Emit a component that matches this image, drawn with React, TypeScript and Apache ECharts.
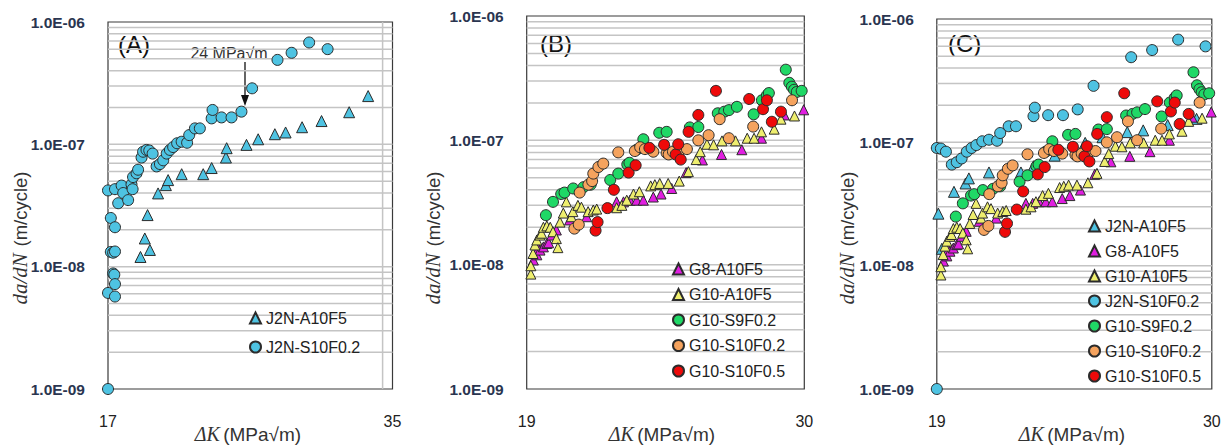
import React, { useEffect, useRef } from "react";
import * as echarts from "echarts";

// ---------- data (ΔK in MPa√m, da/dN in m/cycle) ----------
const j2nA10F5: number[][] = [
  [18.72, 1.2e-8], [18.92, 1.7e-8], [19.16, 1.37e-8], [19.05, 2.64e-8], [19.55, 3.97e-8],
  [19.93, 4.64e-8], [20.04, 5.1e-8], [20.72, 5.7e-8], [21.85, 5.7e-8], [22.31, 6.4e-8],
  [23.11, 7.8e-8], [23.15, 9.3e-8], [24.31, 9.9e-8], [25.02, 1.1e-7], [26.07, 1.21e-7],
  [26.77, 1.25e-7], [27.88, 1.38e-7], [29.25, 1.55e-7], [31.31, 1.83e-7], [32.81, 2.48e-7],
];

const j2nS10F02: number[][] = [
  [17.28, 4.2e-8], [17.58, 4.3e-8], [17.72, 3.3e-8], [17.87, 4.6e-8], [17.94, 4.0e-8],
  [18.16, 3.5e-8], [18.31, 4.7e-8], [18.36, 4.3e-8], [18.38, 5.4e-8], [18.54, 5.8e-8],
  [18.61, 6.2e-8], [18.77, 7.8e-8], [18.84, 8.7e-8], [19.0, 9.0e-8], [19.13, 8.9e-8],
  [19.29, 8.4e-8], [19.48, 6.6e-8], [19.64, 6.9e-8], [19.8, 7.4e-8], [19.97, 8.4e-8],
  [20.13, 9.0e-8], [20.29, 9.5e-8], [20.49, 1.02e-7], [20.72, 1.05e-7], [21.0, 1.03e-7],
  [21.11, 1.19e-7], [21.41, 1.35e-7], [21.67, 1.35e-7], [22.31, 1.63e-7], [22.36, 1.91e-7],
  [22.86, 1.66e-7], [23.43, 1.66e-7], [24.01, 1.85e-7], [24.65, 2.87e-7], [26.24, 4.9e-7],
  [27.17, 5.6e-7], [28.37, 6.8e-7], [29.69, 6.0e-7],
  [17.4, 2.5e-8], [17.58, 2.1e-8], [17.4, 1.32e-8], [17.5, 1.3e-8], [17.58, 1.33e-8],
  [17.5, 8.8e-9], [17.55, 8.6e-9], [17.58, 7.2e-9], [17.28, 6.1e-9], [17.58, 5.7e-9],
];
const floorRate = 1e-9; // lowest point of J2N-S10F0.2, drawn at each panel's ΔK minimum

const g8A10F5: number[][] = [
  [19.21, 1.09e-8], [19.32, 1.2e-8], [19.37, 1.35e-8], [19.42, 1.31e-8], [19.53, 1.39e-8],
  [19.64, 1.48e-8], [19.7, 1.5e-8], [19.8, 1.73e-8], [19.95, 1.9e-8], [20.39, 2.29e-8],
  [20.97, 2.43e-8], [22.03, 3.2e-8], [22.28, 3.2e-8], [22.52, 3.3e-8], [22.77, 3.3e-8],
  [23.02, 3.3e-8], [23.4, 3.5e-8], [23.7, 3.7e-8], [24.12, 4.1e-8], [24.7, 5.5e-8],
  [25.37, 6.95e-8], [26.18, 7.7e-8], [27.07, 8.4e-8], [27.96, 1.04e-7], [29.03, 1.6e-7],
  [29.97, 1.76e-7],
];

const g10A10F5: number[][] = [
  [19.13, 8.4e-9], [19.13, 9.8e-9], [19.2, 1.23e-8], [19.26, 1.44e-8], [19.32, 1.58e-8],
  [19.42, 1.73e-8], [19.47, 1.79e-8], [19.53, 2.0e-8], [19.64, 2.05e-8], [19.75, 2.0e-8],
  [19.84, 1.84e-8], [19.95, 1.62e-8], [20.0, 1.37e-8], [20.07, 2.2e-8], [20.18, 2.6e-8],
  [20.28, 3.2e-8], [20.45, 2.43e-8], [20.5, 2.67e-8], [20.67, 3.0e-8], [20.79, 2.9e-8],
  [21.02, 2.67e-8], [21.2, 2.75e-8], [21.32, 2.8e-8], [22.03, 2.87e-8], [22.22, 3.0e-8],
  [22.4, 3.3e-8], [22.65, 3.7e-8], [22.87, 3.86e-8], [23.3, 4.3e-8], [23.46, 4.4e-8],
  [23.65, 4.5e-8], [23.98, 4.5e-8], [24.42, 4.7e-8], [24.79, 5.6e-8], [25.11, 7.0e-8],
  [25.28, 8.1e-8], [25.56, 9.3e-8], [25.84, 9.2e-8], [26.2, 9.9e-8], [26.79, 9.9e-8],
  [27.31, 1.04e-7], [27.62, 1.04e-7], [27.96, 1.17e-7], [28.55, 1.23e-7], [28.87, 1.48e-7],
  [29.52, 1.57e-7],
];

const g10S9F02: number[][] = [
  [19.61, 2.5e-8], [19.84, 3.2e-8], [20.11, 3.7e-8], [20.22, 3.8e-8], [20.51, 4.1e-8],
  [20.86, 4.2e-8], [21.11, 4.4e-8], [21.8, 4.8e-8], [22.09, 5.4e-8], [22.42, 6.4e-8],
  [22.5, 6.6e-8], [22.77, 8.4e-8], [23.02, 1.02e-7], [23.63, 1.15e-7], [23.92, 1.17e-7],
  [24.85, 1.27e-7], [25.2, 1.28e-7], [26.02, 1.65e-7], [26.3, 1.7e-7], [26.5, 1.75e-7],
  [26.85, 1.86e-7], [27.6, 1.62e-7], [27.98, 2.1e-7], [28.21, 2.3e-7], [28.3, 2.4e-7],
  [29.1, 3.7e-7], [29.27, 2.9e-7], [29.39, 2.7e-7], [29.5, 2.55e-7], [29.63, 2.45e-7],
  [29.87, 2.5e-7],
];

const g10S10F02: number[][] = [
  [20.55, 1.95e-8], [20.7, 2.1e-8], [20.73, 3.8e-8], [21.03, 4.4e-8], [21.16, 4.7e-8],
  [21.2, 5.4e-8], [21.38, 6.1e-8], [21.55, 6.5e-8], [22.09, 8.0e-8], [22.7, 8.2e-8],
  [22.9, 8.8e-8], [23.08, 8.5e-8], [23.4, 8.1e-8], [23.92, 7.9e-8], [24.0, 7.7e-8],
  [24.17, 8.1e-8], [24.4, 8.0e-8], [24.73, 8.5e-8], [25.2, 1.0e-7], [25.63, 1.1e-7],
  [26.1, 1.48e-7], [26.5, 1.04e-7], [27.58, 1.29e-7], [29.4, 2.1e-7],
];

const g10S10F05: number[][] = [
  [21.28, 1.88e-8], [21.35, 2.2e-8], [21.7, 2.85e-8], [21.93, 4.0e-8], [22.47, 5.5e-8],
  [22.73, 6.3e-8], [23.25, 8.7e-8], [23.82, 9.2e-8], [24.28, 7.7e-8], [24.38, 9.3e-8],
  [24.48, 7.0e-8], [24.8, 1.17e-7], [25.2, 1.6e-7], [25.94, 2.5e-7], [27.4, 2.15e-7],
  [28.03, 1.78e-7], [28.21, 2.1e-7], [28.44, 1.41e-7], [28.87, 1.7e-7],
];

// ---------- axes ----------
const rateDecades = [1e-9, 1e-8, 1e-7];
const rateMantissas = [1, 2, 3, 4, 5, 6, 7, 8, 9];
const xTickLabelsA = ["17", "35"];
const xTickLabelsBC = ["19", "30"];
const xRangeA = [17.28, 34.84];
const xRangeBC = [19, 30];
const verticalGridA = [34.0];

// ---------- styling ----------
const C_J2N = "#4ec3e2";
const C_G8 = "#e01ee0";
const C_G10A = "#eeee6e";
const C_S9 = "#1fd866";
const C_S10F02 = "#f5a35e";
const C_S10F05 = "#ee0a0a";
const SANS = "'Liberation Sans', Arial, sans-serif";
const SERIF = "'Liberation Serif', 'Times New Roman', serif";

type SDef = { name: string; data: number[][]; symbol: string; color: string; size: number };

const defs: Record<string, SDef> = {
  J2N_A: { name: "J2N-A10F5", data: j2nA10F5, symbol: "triangle", color: C_J2N, size: 11 },
  J2N_S: { name: "J2N-S10F0.2", data: j2nS10F02, symbol: "circle", color: C_J2N, size: 11 },
  G8: { name: "G8-A10F5", data: g8A10F5, symbol: "triangle", color: C_G8, size: 10 },
  G10A: { name: "G10-A10F5", data: g10A10F5, symbol: "triangle", color: C_G10A, size: 10 },
  S9: { name: "G10-S9F0.2", data: g10S9F02, symbol: "circle", color: C_S9, size: 11 },
  S10F02: { name: "G10-S10F0.2", data: g10S10F02, symbol: "circle", color: C_S10F02, size: 11 },
  S10F05: { name: "G10-S10F0.5", data: g10S10F05, symbol: "circle", color: C_S10F05, size: 11 },
};

const panels = [
  {
    letter: "(A)", letterPos: [118, 44],
    grid: { left: 108, top: 22, width: 284.5, height: 367 },
    xRange: xRangeA, xLabels: xTickLabelsA, vGrid: verticalGridA,
    series: ["J2N_A", "J2N_S"], legendOrder: ["J2N_A", "J2N_S"],
    legend: { left: 249, top: 310, itemGap: 13 },
    xName: [248, 434], yName: [20, 238],
  },
  {
    letter: "(B)", letterPos: [540, 43],
    grid: { left: 526.7, top: 16, width: 277.6, height: 373 },
    xRange: xRangeBC, xLabels: xTickLabelsBC, vGrid: [] as number[],
    series: ["G8", "G10A", "S9", "S10F02", "S10F05"],
    legendOrder: ["G8", "G10A", "S9", "S10F02", "S10F05"],
    legend: { left: 672, top: 261, itemGap: 9.5 },
    xName: [662, 434], yName: [433, 238],
  },
  {
    letter: "(C)", letterPos: [948, 43],
    grid: { left: 936.8, top: 19, width: 275, height: 370 },
    xRange: xRangeBC, xLabels: xTickLabelsBC, vGrid: [] as number[],
    series: ["J2N_A", "G8", "G10A", "J2N_S", "S9", "S10F02", "S10F05"],
    legendOrder: ["J2N_A", "G8", "G10A", "J2N_S", "S9", "S10F02", "S10F05"],
    legend: { left: 1088, top: 218, itemGap: 9 },
    xName: [1072, 434], yName: [847, 238],
  },
];

function buildOption() {
  const gridRates = rateDecades
    .flatMap((d) => rateMantissas.map((m) => m * d))
    .filter((v) => v > 1.5e-9);

  const grids: any[] = [];
  const xAxes: any[] = [];
  const yAxes: any[] = [];
  const series: any[] = [];
  const legends: any[] = [];
  const graphics: any[] = [];

  panels.forEach((p, i) => {
    grids.push({
      ...p.grid,
      show: true,
      borderColor: "#3a3a3a",
      borderWidth: 1.2,
      backgroundColor: "transparent",
      containLabel: false,
    });
    const [xmin, xmax] = p.xRange;
    xAxes.push({
      type: "log",
      logBase: 10,
      gridIndex: i,
      min: xmin,
      max: xmax,
      axisLine: { show: false },
      axisTick: { show: false },
      splitLine: { show: false },
      minorSplitLine: { show: false },
      axisLabel: {
        show: true,
        margin: 24,
        fontSize: 16,
        fontFamily: SANS,
        color: "#222",
        showMinLabel: true,
        showMaxLabel: true,
        formatter: (v: number) =>
          Math.abs(Math.log10(v) - Math.log10(xmin)) < Math.abs(Math.log10(v) - Math.log10(xmax))
            ? p.xLabels[0]
            : p.xLabels[1],
      },
    });
    yAxes.push({
      type: "log",
      logBase: 10,
      gridIndex: i,
      min: 1e-9,
      max: 1e-6,
      axisLine: { show: false },
      axisTick: { show: false },
      splitLine: { show: false },
      axisLabel: {
        margin: 23,
        fontSize: 15.5,
        fontWeight: "bold",
        fontFamily: SANS,
        color: "#2a3550",
        formatter: (v: number) => {
          const e = Math.round(Math.log10(v));
          return "1.0E-" + String(-e).padStart(2, "0");
        },
      },
    });

    // gridlines: [kind, value] kind 0 = horizontal (rate), 1 = vertical (ΔK)
    const lineItems = [
      ...gridRates.map((v) => [0, v]),
      ...p.vGrid.map((v) => [1, v]),
    ];
    series.push({
      type: "custom",
      name: "__grid" + i,
      xAxisIndex: i,
      yAxisIndex: i,
      coordinateSystem: "cartesian2d",
      data: lineItems,
      encode: { x: -1, y: -1 },
      z: 1,
      silent: true,
      clip: false,
      renderItem: (params: any, api: any) => {
        const kind = api.value(0);
        const v = api.value(1);
        let a, b;
        if (kind === 0) {
          a = api.coord([xmin, v]);
          b = api.coord([xmax, v]);
        } else {
          a = api.coord([v, 1e-9]);
          b = api.coord([v, 1e-6]);
        }
        return {
          type: "line",
          shape: { x1: a[0], y1: a[1], x2: b[0], y2: b[1] },
          style: { stroke: "#c4c4c4", lineWidth: 1.5 },
          silent: true,
        };
      },
    });

    p.series.forEach((key) => {
      const d = defs[key];
      let data = d.data.filter((pt) => pt[0] >= xmin * 0.997 && pt[0] <= xmax);
      if (key === "J2N_S") data = data.concat([[xmin, floorRate]]);
      series.push({
        type: "scatter",
        name: d.name,
        xAxisIndex: i,
        yAxisIndex: i,
        data,
        symbol: d.symbol,
        symbolSize: d.size,
        clip: false,
        z: 3,
        silent: true,
        itemStyle: { color: d.color, borderColor: "#2b2b2b", borderWidth: 1, opacity: 1 },
      });
    });

    legends.push({
      orient: "vertical",
      left: p.legend.left,
      top: p.legend.top,
      itemGap: p.legend.itemGap,
      itemWidth: 11,
      itemHeight: 11,
      selectedMode: false,
      padding: 0,
      data: p.legendOrder.map((k) => defs[k].name),
      textStyle: { fontSize: 16, fontFamily: SANS, color: "#222", lineHeight: 16 },
    });

    graphics.push({
      type: "text",
      x: p.letterPos[0],
      y: p.letterPos[1],
      silent: true,
      style: { text: p.letter, fontSize: 24, fontFamily: SANS, fill: "#111", verticalAlign: "middle", align: "left" },
    });
    graphics.push({
      type: "text",
      x: p.xName[0],
      y: p.xName[1],
      silent: true,
      style: {
        text: "{i|ΔK} {n|(MPa√m)}",
        align: "center",
        verticalAlign: "middle",
        rich: {
          i: { fontFamily: SERIF, fontStyle: "italic", fontSize: 20, fill: "#333" },
          n: { fontFamily: SANS, fontSize: 19, fill: "#333" },
        },
      },
    });
    graphics.push({
      type: "text",
      x: p.yName[0],
      y: p.yName[1],
      rotation: Math.PI / 2,
      silent: true,
      style: {
        text: "{i|da/dN}  {n|(m/cycle)}",
        align: "center",
        verticalAlign: "middle",
        rich: {
          i: { fontFamily: SERIF, fontStyle: "italic", fontSize: 21, fill: "#333" },
          n: { fontFamily: SANS, fontSize: 18.5, fill: "#333" },
        },
      },
    });
  });

  // annotation in (A)
  graphics.push({
    type: "text",
    x: 229,
    y: 53.5,
    silent: true,
    style: { text: "24 MPa√m", fontSize: 16, fontFamily: SANS, fill: "#333", align: "center", verticalAlign: "middle" },
  });
  graphics.push({
    type: "line",
    silent: true,
    shape: { x1: 245, y1: 62, x2: 245, y2: 100 },
    style: { stroke: "#111", lineWidth: 1.3 },
  });
  graphics.push({
    type: "polygon",
    silent: true,
    shape: { points: [[241, 95], [249, 95], [245, 106]] },
    style: { fill: "#111" },
  });

  return {
    animation: false,
    backgroundColor: "#ffffff",
    grid: grids,
    xAxis: xAxes,
    yAxis: yAxes,
    legend: legends,
    series,
    graphic: graphics,
  };
}

export default function App() {
  const ref = useRef<HTMLDivElement>(null);
  useEffect(() => {
    if (!ref.current) return;
    const chart = echarts.init(ref.current, undefined, { renderer: "svg" });
    chart.setOption(buildOption() as any);
    return () => chart.dispose();
  }, []);
  return (
    <div
      ref={ref}
      style={{ position: "fixed", left: 0, top: 0, width: 1225, height: 445, background: "#fff" }}
    />
  );
}
